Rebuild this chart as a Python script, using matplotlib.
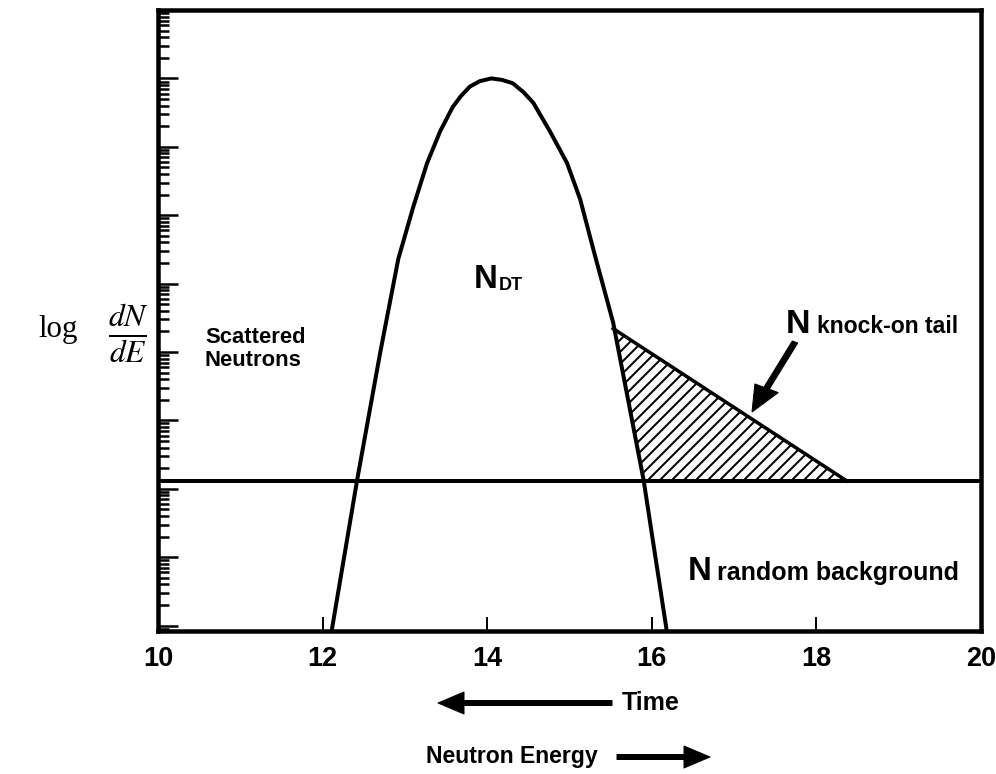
import matplotlib
matplotlib.use('Agg')
import matplotlib.pyplot as plt
from matplotlib.ticker import LogLocator, NullFormatter

# values (log y axis, arbitrary units)
energy = [12.08, 12.42, 12.70, 12.92, 13.10, 13.27, 13.43, 13.58, 13.68, 13.79, 13.91,
          14.05, 14.18, 14.31, 14.44, 14.56, 14.76, 14.97, 15.13, 15.32, 15.53, 15.90, 16.21]
dnde = [0.51, 135, 9.8e3, 2.3e5, 1.3e6, 5.8e6, 1.7e7, 3.8e7, 5.5e7, 7.6e7, 9.1e7,
        1.0e8, 9.5e7, 8.5e7, 6.3e7, 4.4e7, 1.7e7, 5.8e6, 1.7e6, 2.3e5, 2.7e4, 135, 0.5]

tail_energy = [15.53, 18.37, 15.90]
tail_dnde = [2.2e4, 130, 130]
background = 130

xticks = [10, 12, 14, 16, 18, 20]

W, H = 996, 774
DPI = 72
sans = ['Liberation Sans', 'DejaVu Sans']
plt.rcParams['hatch.linewidth'] = 2.0
plt.rcParams['mathtext.fontset'] = 'stix'


def fx(px):
    return px / W


def fy(py):
    return 1 - py / H


fig = plt.figure(figsize=(W / DPI, H / DPI), dpi=DPI)
ax = fig.add_axes([158 / W, 1 - 631 / H, 823 / W, 621 / H])
ax.set_yscale('log')
ax.set_xlim(10, 20)
ax.set_ylim(10 ** -0.08, 10 ** 9.0)

ax.plot(energy, dnde, color='k', lw=4, solid_joinstyle='round')
ax.fill(tail_energy, tail_dnde, facecolor='none', edgecolor='k', hatch='//', lw=0)
ax.plot(tail_energy[:2], tail_dnde[:2], color='k', lw=3.5)
ax.axhline(background, color='k', lw=4)

for s in ax.spines.values():
    s.set_linewidth(4.5)

ax.yaxis.set_major_locator(LogLocator(base=10, numticks=30))
ax.yaxis.set_minor_locator(LogLocator(base=10, subs=range(2, 10), numticks=200))
ax.yaxis.set_major_formatter(NullFormatter())
ax.yaxis.set_minor_formatter(NullFormatter())
ax.tick_params(axis='y', which='major', direction='in', length=20, width=2.5)
ax.tick_params(axis='y', which='minor', direction='in', length=11, width=2.5)

ax.set_xticks(xticks)
ax.set_xticklabels([str(t) for t in xticks], family=sans, fontweight='bold', fontsize=27)
ax.tick_params(axis='x', which='major', direction='in', length=14, width=2, pad=15)
ax.tick_params(axis='x', which='minor', bottom=False)

# y label: log dN/dE
fig.text(fx(38), fy(330), 'log', family='Liberation Serif', fontsize=31, va='center', ha='left')
fig.text(fx(108), fy(334), r'$\frac{dN}{dE}$', fontsize=45, va='center', ha='left')

# annotations
fig.text(fx(205), fy(327), 'Scattered\nNeutrons', family=sans, fontweight='bold',
         fontsize=22, va='top', ha='left', linespacing=1.1)
fig.text(fx(474), fy(288), 'N', family=sans, fontweight='bold', fontsize=33, va='baseline')
fig.text(fx(499), fy(290), 'DT', family=sans, fontweight='bold', fontsize=18, va='baseline')

fig.text(fx(786), fy(333), 'N', family=sans, fontweight='bold', fontsize=34, va='baseline')
fig.text(fx(817), fy(333), 'knock-on tail', family=sans, fontweight='bold', fontsize=23, va='baseline')
fig.text(fx(688), fy(580), 'N', family=sans, fontweight='bold', fontsize=33, va='baseline')
fig.text(fx(717), fy(580), 'random background', family=sans, fontweight='bold', fontsize=25,
         va='baseline')

fig.add_artist(matplotlib.patches.FancyArrow(fx(795), fy(342), fx(752) - fx(795), fy(412) - fy(342),
                                             width=0.006, head_width=0.026, head_length=0.034,
                                             length_includes_head=True, color='k',
                                             transform=fig.transFigure))

fig.text(fx(622), fy(703), 'Time', family=sans, fontweight='bold', fontsize=25, va='center', ha='left')
ax.annotate('', xy=(fx(438), fy(703)), xytext=(fx(612), fy(703)), xycoords='figure fraction',
            arrowprops=dict(width=5, headwidth=22, headlength=26, color='k'))
fig.text(fx(426), fy(756), 'Neutron Energy', family=sans, fontweight='bold', fontsize=23,
         va='center', ha='left')
ax.annotate('', xy=(fx(710), fy(757)), xytext=(fx(617), fy(757)), xycoords='figure fraction',
            arrowprops=dict(width=5, headwidth=22, headlength=26, color='k'))

fig.savefig('out.png', dpi=DPI)
